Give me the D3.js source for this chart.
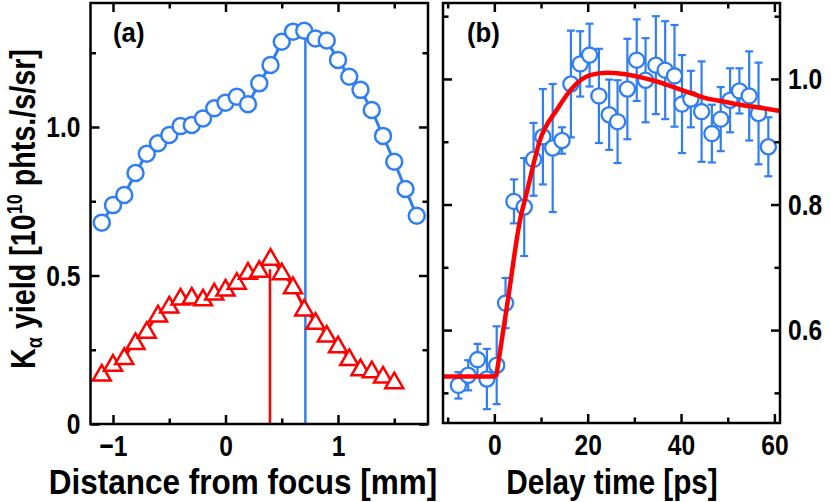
<!DOCTYPE html>
<html><head><meta charset="utf-8">
<script src="https://cdn.jsdelivr.net/npm/d3@7"></script>
<style>
html,body{margin:0;padding:0;background:#fff;}
svg text{font-family:"Liberation Sans",Arial,Helvetica,sans-serif;font-weight:bold;fill:#000;}
</style></head>
<body><svg id="c" width="831" height="502"></svg>
<script>
// ---------- data ----------
const distBlue = [-1.1,-1.0,-0.9,-0.8,-0.7,-0.6,-0.5,-0.4,-0.3,-0.2,-0.1,0.0,0.1,0.2,0.3,0.4,0.5,0.6,0.7,0.8,0.9,1.0,1.1,1.2,1.3,1.4,1.5,1.6,1.7];
const yieldBlue = [0.678,0.737,0.771,0.845,0.910,0.945,0.973,1.003,1.007,1.029,1.063,1.082,1.102,1.077,1.147,1.209,1.287,1.321,1.324,1.298,1.291,1.226,1.169,1.125,1.057,0.970,0.883,0.791,0.701];
const distRed = [-1.1,-1.0,-0.9,-0.8,-0.7,-0.6,-0.5,-0.4,-0.3,-0.2,-0.1,0.0,0.1,0.2,0.3,0.4,0.5,0.6,0.7,0.8,0.9,1.0,1.1,1.2,1.3,1.4,1.5];
const yieldRed = [0.171,0.204,0.227,0.277,0.315,0.370,0.400,0.427,0.430,0.424,0.444,0.457,0.480,0.514,0.520,0.561,0.512,0.465,0.390,0.345,0.302,0.266,0.223,0.189,0.182,0.164,0.145];
const peakBlue = {x:0.71, y:1.324};
const peakRed = {x:0.395, y:0.521};

const delay = [-7.7,-5.6,-3.6,-1.6,0.5,2.4,4.2,6.4,8.4,10.4,12.5,14.5,16.4,18.4,20.4,22.4,24.6,26.4,28.5,30.5,32.4,34.6,36.6,38.6,40.2,42.1,44.4,46.6,48.5,50.5,52.5,54.6,56.6,58.7];
const signal = [0.512,0.528,0.553,0.522,0.544,0.643,0.805,0.796,0.872,0.908,0.890,0.902,0.992,1.024,1.038,0.973,0.943,0.932,0.984,1.030,0.998,1.022,1.014,1.005,0.960,0.968,0.948,0.913,0.936,0.966,0.981,0.973,0.945,0.892];
const signalErr = [0.021,0.024,0.025,0.048,0.062,0.040,0.035,0.078,0.058,0.076,0.102,0.021,0.085,0.052,0.050,0.075,0.056,0.066,0.080,0.065,0.067,0.078,0.078,0.081,0.078,0.045,0.080,0.046,0.051,0.051,0.036,0.071,0.081,0.047];
const fitT = [-11,0.4,3.0,5.5,6.9,9.8,13.4,17.0,20.5,24.1,27.7,31.2,34.8,38.4,41.9,45.5,49.1,52.6,56.2,61.2];
const fitV = [0.526,0.526,0.653,0.775,0.818,0.903,0.951,0.988,1.006,1.010,1.008,1.003,0.996,0.987,0.978,0.969,0.964,0.959,0.955,0.949];

const ticksAMajorX = [-1,0,1], ticksAMinorX = [-0.5,0.5,1.5];
const ticksAMajorY = [0,0.5,1.0], ticksAMinorY = [0.25,0.75,1.25];
const labelsAY = ["0","0.5","1.0"];
const ticksBMajorX = [0,20,40,60], ticksBMinorX = [-10,10,30,50];
const ticksBMajorY = [0.6,0.8,1.0], ticksBMinorY = [0.5,0.7,0.9,1.1];
const labelsBY = ["0.6","0.8","1.0"];

// ---------- style ----------
const BLUE = "#2f7ef2", RED = "#ff0000";
const CX = 0.82; // horizontal condensing
const svg = d3.select("#c");

const xA = d3.scaleLinear([-1.2,1.8],[90.5,428]);
const yA = d3.scaleLinear([0,1.4175],[424,3]);
const xB = d3.scaleLinear([-11,61.2],[443,780]);
const yB = d3.scaleLinear([0.452,1.121],[423,3]);

function condenseTicks(g){
  g.selectAll(".tick text").each(function(){
    const t = d3.select(this);
    const x = +t.attr("x") || 0;
    t.attr("x", x/CX).attr("transform", `scale(${CX},1)`);
  });
}
function styleAxis(g){
  g.select(".domain").remove();
  g.selectAll(".tick line").attr("stroke","#000").attr("stroke-width",2.5);
}
function frame(xs, ys, opts){
  const [x0,x1] = xs.range(), [y0,y1] = ys.range();
  const maj = 9, min = 5.5;
  let g = svg.append("g").attr("transform",`translate(0,${y0})`)
    .call(d3.axisBottom(xs).tickValues(opts.mx).tickSizeInner(-maj).tickSizeOuter(0).tickPadding(11).tickFormat(opts.xfmt));
  styleAxis(g); g.selectAll(".tick text").attr("font-size",30).attr("font-family","Liberation Sans"); condenseTicks(g);
  g = svg.append("g").attr("transform",`translate(0,${y0})`)
    .call(d3.axisBottom(xs).tickValues(opts.nx).tickSizeInner(-min).tickSizeOuter(0).tickFormat(""));
  styleAxis(g);
  g = svg.append("g").attr("transform",`translate(0,${y1})`)
    .call(d3.axisTop(xs).tickValues(opts.mx).tickSizeInner(-maj).tickSizeOuter(0).tickFormat(""));
  styleAxis(g);
  g = svg.append("g").attr("transform",`translate(0,${y1})`)
    .call(d3.axisTop(xs).tickValues(opts.nx).tickSizeInner(-min).tickSizeOuter(0).tickFormat(""));
  styleAxis(g);
  g = svg.append("g").attr("transform",`translate(${x0},0)`)
    .call(d3.axisLeft(ys).tickValues(opts.my).tickSizeInner(-maj).tickSizeOuter(0).tickPadding(10)
      .tickFormat(opts.left ? (d,i)=>opts.ylab[i] : ""));
  styleAxis(g); g.selectAll(".tick text").attr("font-size",30).attr("font-family","Liberation Sans"); condenseTicks(g);
  g = svg.append("g").attr("transform",`translate(${x0},0)`)
    .call(d3.axisLeft(ys).tickValues(opts.ny).tickSizeInner(-min).tickSizeOuter(0).tickFormat(""));
  styleAxis(g);
  g = svg.append("g").attr("transform",`translate(${x1},0)`)
    .call(d3.axisRight(ys).tickValues(opts.my).tickSizeInner(-maj).tickSizeOuter(0).tickPadding(8)
      .tickFormat(opts.right ? (d,i)=>opts.ylab[i] : ""));
  styleAxis(g); g.selectAll(".tick text").attr("font-size",30).attr("font-family","Liberation Sans"); condenseTicks(g);
  g = svg.append("g").attr("transform",`translate(${x1},0)`)
    .call(d3.axisRight(ys).tickValues(opts.ny).tickSizeInner(-min).tickSizeOuter(0).tickFormat(""));
  styleAxis(g);
  svg.append("rect").attr("x",x0).attr("y",y1).attr("width",x1-x0).attr("height",y0-y1)
    .attr("fill","none").attr("stroke","#000").attr("stroke-width",2.5);
}

function ctext(x,y,str,size,sx,anchor){
  return svg.append("text").attr("transform",`translate(${x},${y}) scale(${sx},1)`)
    .attr("font-size",size).attr("text-anchor",anchor||"middle").text(str);
}

// ---------- panel (a) ----------
const gA = svg.append("g");
const lineA = d3.line().x(d=>xA(d[0])).y(d=>yA(d[1]));
const blueD = distBlue.map((d,i)=>[d,yieldBlue[i]]);
const redD = distRed.map((d,i)=>[d,yieldRed[i]]);
gA.append("path").attr("d",lineA(blueD)).attr("fill","none").attr("stroke",BLUE).attr("stroke-width",3);
gA.append("path").attr("d",lineA(redD)).attr("fill","none").attr("stroke",RED).attr("stroke-width",3);
gA.append("line").attr("x1",xA(peakBlue.x)).attr("x2",xA(peakBlue.x)).attr("y1",yA(0)).attr("y2",yA(peakBlue.y))
  .attr("stroke",BLUE).attr("stroke-width",2.5);
gA.append("line").attr("x1",xA(peakRed.x)).attr("x2",xA(peakRed.x)).attr("y1",yA(0)).attr("y2",yA(peakRed.y))
  .attr("stroke",RED).attr("stroke-width",2.5);
gA.selectAll("path.tri").data(redD).join("path").attr("class","tri")
  .attr("transform",d=>`translate(${xA(d[0])},${yA(d[1])})`)
  .attr("d","M0,-8.3L9,7.3L-9,7.3Z").attr("fill","#fff").attr("stroke",RED).attr("stroke-width",2.5).attr("stroke-linejoin","miter");
gA.selectAll("circle").data(blueD).join("circle")
  .attr("cx",d=>xA(d[0])).attr("cy",d=>yA(d[1])).attr("r",8)
  .attr("fill","#fff").attr("stroke",BLUE).attr("stroke-width",2.5);

frame(xA,yA,{mx:ticksAMajorX,nx:ticksAMinorX,my:ticksAMajorY,ny:ticksAMinorY,ylab:labelsAY,left:true,right:false,
  xfmt:d=>d3.format("d")(d)});

// ---------- panel (b) ----------
const gB = svg.append("g");
const bD = delay.map((t,i)=>({t, v:signal[i], e:signalErr[i]}));
const eb = gB.selectAll("g.eb").data(bD).join("g").attr("class","eb").attr("stroke",BLUE).attr("stroke-width",2.2);
eb.append("line").attr("x1",d=>xB(d.t)).attr("x2",d=>xB(d.t)).attr("y1",d=>yB(d.v-d.e)).attr("y2",d=>yB(d.v+d.e));
eb.append("line").attr("x1",d=>xB(d.t)-4).attr("x2",d=>xB(d.t)+4).attr("y1",d=>yB(d.v-d.e)).attr("y2",d=>yB(d.v-d.e));
eb.append("line").attr("x1",d=>xB(d.t)-4).attr("x2",d=>xB(d.t)+4).attr("y1",d=>yB(d.v+d.e)).attr("y2",d=>yB(d.v+d.e));
gB.selectAll("circle").data(bD).join("circle")
  .attr("cx",d=>xB(d.t)).attr("cy",d=>yB(d.v)).attr("r",7.6)
  .attr("fill","#fff").attr("stroke",BLUE).attr("stroke-width",2.3);
const fitD = fitT.map((t,i)=>[t,fitV[i]]);
const lineB = d3.line().x(d=>xB(d[0])).y(d=>yB(d[1]));
gB.append("path").attr("d",lineB(fitD.slice(0,2)) ).attr("fill","none").attr("stroke",RED).attr("stroke-width",4.5);
gB.append("path").attr("d",lineB.curve(d3.curveMonotoneX)(fitD.slice(1))).attr("fill","none").attr("stroke",RED).attr("stroke-width",4.5).attr("stroke-linejoin","round");

frame(xB,yB,{mx:ticksBMajorX,nx:ticksBMinorX,my:ticksBMajorY,ny:ticksBMinorY,ylab:labelsBY,left:false,right:true,
  xfmt:d=>d3.format("d")(d)});

// ---------- labels ----------
ctext(113,42,"(a)",28,0.92,"start");
ctext(467,42,"(b)",28,0.92,"start");
ctext(243,494,"Distance from focus [mm]",35,0.9);
ctext(612,494,"Delay time [ps]",35,0.85);
const yt = svg.append("text").attr("transform",`translate(35,209) rotate(-90) scale(${CX},1)`)
  .attr("font-size",35).attr("text-anchor","middle");
yt.append("tspan").text("K");
yt.append("tspan").attr("font-size",22).attr("dy",7).text("α");
yt.append("tspan").attr("dy",-7).text(" yield [10");
yt.append("tspan").attr("font-size",22).attr("dy",-13).text("10");
yt.append("tspan").attr("dy",13).text(" phts./s/sr]");
</script></body></html>
